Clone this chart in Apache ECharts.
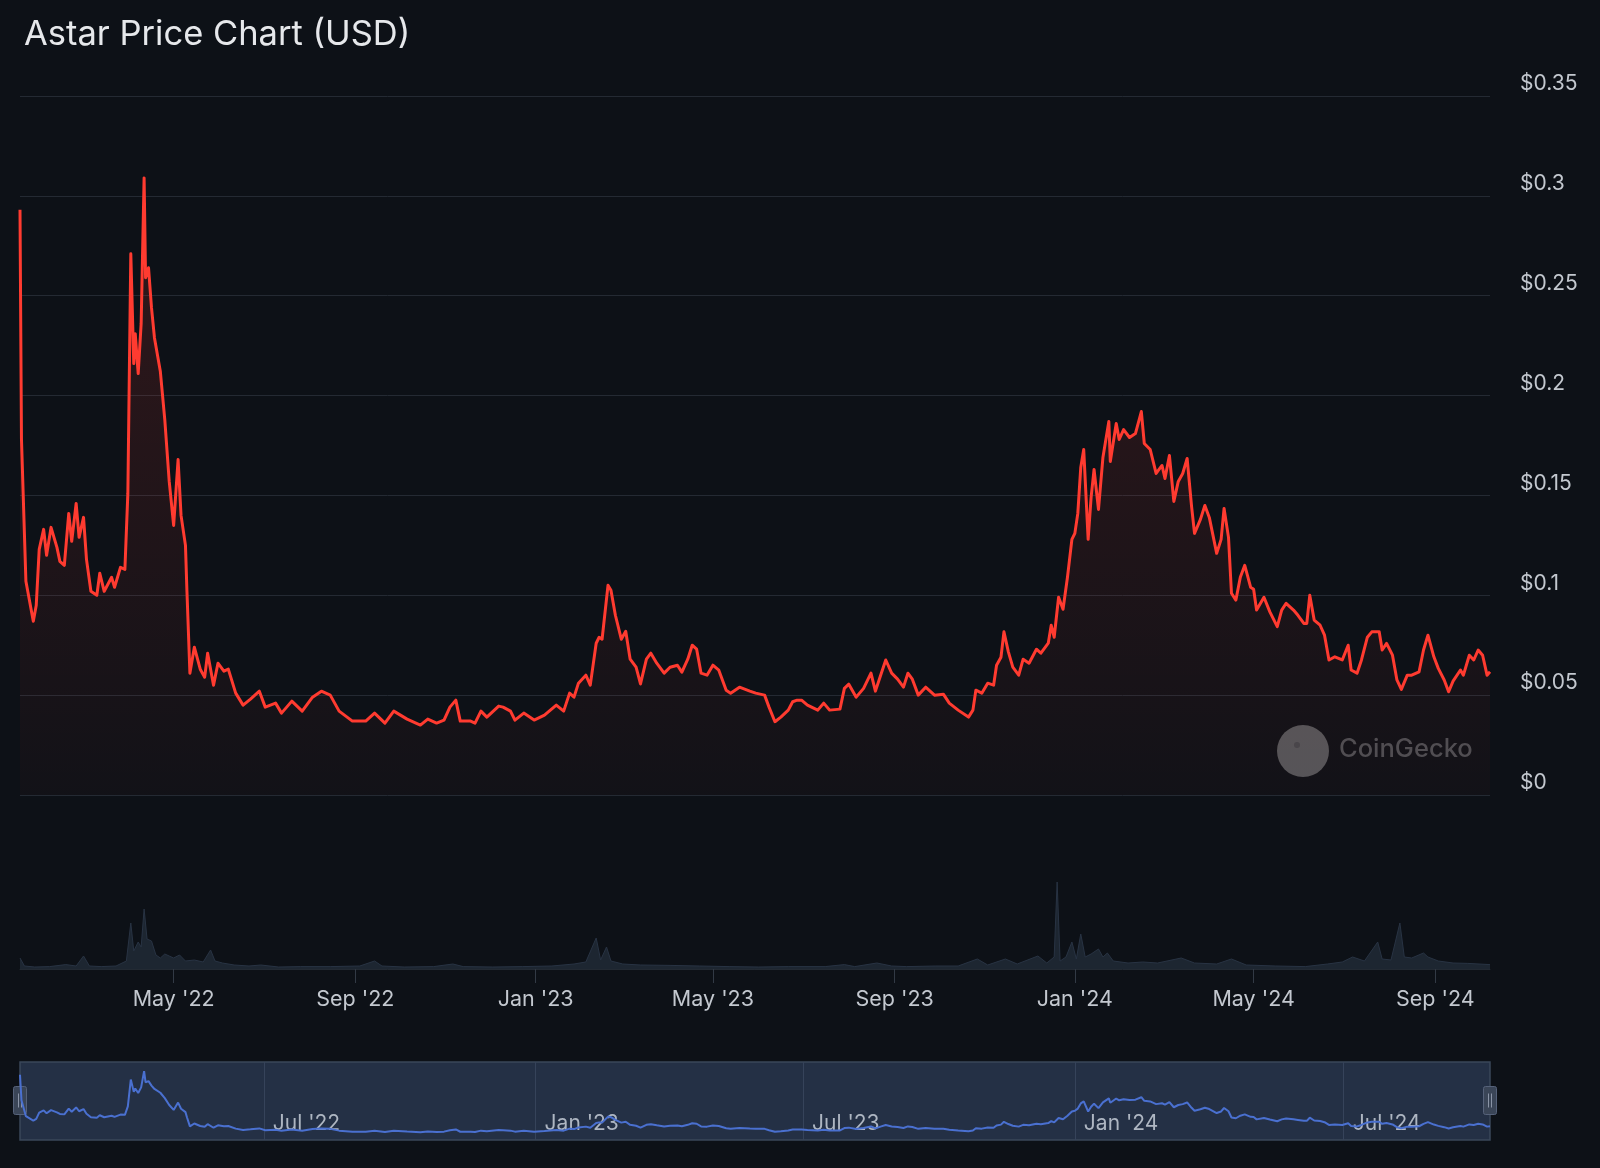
<!DOCTYPE html>
<html>
<head>
<meta charset="utf-8">
<script src="https://cdn.jsdelivr.net/npm/echarts@6/dist/echarts.min.js"></script>
<style>
html,body{margin:0;padding:0;background:#0d1117;}
#chart{width:1600px;height:1168px;}
</style>
</head>
<body>
<div id="chart"></div>
<script>
// ---- data ----
const START_DATE = '2022-01-17';
const END_DATE = '2024-10-08';

// price samples: day offset from START_DATE, price in USD
const priceDays = [0,1,4,9,11,13,16,18,21,25,27,30,33,35,38,40,43,45,48,52,54,57,62,64,68,71,73,75,77,78,80,82,84,85,87,89,91,95,98,101,104,107,109,112,113,115,118,122,125,127,131,134,138,141,146,151,156,162,166,173,177,184,191,198,204,210,216,225,234,240,247,253,
262,271,276,282,287,291,295,298,305,308,312,316,324,327,332,335,341,348,355,363,368,372,375,378,383,386,390,392,394,398,400,403,407,410,413,417,420,424,427,431,436,440,445,448,452,455,458,461,465,469,473,478,481,487,494,498,504,507,511,515,520,523,526,
529,533,540,544,548,555,558,561,566,571,576,579,583,586,590,594,598,601,604,608,613,619,625,629,635,642,645,647,651,655,659,661,664,666,669,672,676,679,683,688,691,696,698,700,703,706,709,712,714,716,718,720,723,725,727,730,733,737,738,742,744,747,751,755,759,761,765,769,773,775,778,781,784,787,790,793,795,799,
802,805,810,813,815,818,820,823,826,829,833,835,837,842,846,851,854,857,862,865,869,871,873,876,880,883,886,890,895,899,901,905,908,912,915,920,922,925,929,932,935,939,942,947,950,953,957,960,964,967,970,975,977,981,984,987,990,993,995];
const prices = [0.293,0.178,0.107,0.087,0.095,0.123,0.133,0.120,0.134,0.124,0.117,0.115,0.141,0.127,0.146,0.129,0.139,0.118,0.102,0.100,0.111,0.102,0.109,0.104,0.114,0.113,0.151,0.271,0.216,0.231,0.211,0.236,0.309,0.259,0.264,0.244,0.229,0.212,0.188,0.157,0.135,0.168,0.140,0.125,0.102,0.061,0.074,0.063,0.059,0.071,0.055,0.066,0.062,0.063,0.051,0.045,0.048,0.052,0.044,0.046,0.041,0.047,0.042,0.049,0.052,0.050,0.042,0.037,0.037,0.041,0.036,0.042,
0.038,0.035,0.038,0.036,0.0375,0.044,0.0475,0.037,0.037,0.036,0.042,0.039,0.0445,0.044,0.042,0.0375,0.041,0.0375,0.040,0.045,0.042,0.051,0.049,0.056,0.060,0.055,0.076,0.079,0.078,0.105,0.1025,0.090,0.078,0.082,0.068,0.064,0.0556,0.068,0.071,0.066,0.061,0.064,0.065,0.0615,0.068,0.075,0.073,0.061,0.060,0.065,0.0625,0.0525,0.051,0.054,0.052,0.051,0.050,0.044,0.0367,0.039,0.0425,0.0467,0.0475,
0.0475,0.045,0.0425,0.046,0.0425,0.043,0.0534,0.0555,0.049,0.0534,0.061,0.052,0.061,0.0676,0.061,0.058,0.054,0.061,0.058,0.050,0.054,0.050,0.0505,0.046,0.0425,0.039,0.0425,0.0525,0.051,0.056,0.055,0.065,0.069,0.0817,0.0717,0.064,0.060,0.068,0.066,0.073,0.071,0.076,0.085,0.079,0.099,0.093,0.109,0.128,0.131,0.141,0.164,0.173,0.128,0.149,0.163,0.143,0.169,0.187,0.167,0.186,0.178,0.183,0.179,0.181,0.192,0.176,0.173,0.161,0.165,0.1585,0.170,0.147,0.157,0.161,0.1685,0.1445,0.131,0.138,
0.145,0.139,0.121,0.128,0.1435,0.129,0.101,0.0976,0.109,0.115,0.104,0.103,0.0926,0.099,0.0917,0.0843,0.0926,0.096,0.0926,0.090,0.0859,0.0859,0.100,0.0876,0.085,0.080,0.0676,0.0692,0.0676,0.075,0.0626,0.061,0.0676,0.079,0.0817,0.0817,0.0726,0.0759,0.070,0.0576,0.0529,0.060,0.060,0.0617,0.0726,0.080,0.0692,0.0634,0.0576,0.0517,0.057,0.0626,0.060,0.070,0.0676,0.0726,0.070,0.060,0.0617];

// trading volume samples (USD millions, estimated)
const volumeDays = [0,3,10,20,31,38,43,47,55,65,72,75,77,80,82,84,86,89,92,95,98,101,104,108,112,118,124,129,132,137,145,155,163,175,190,210,230,240,245,260,280,293,300,320,340,360,375,383,390,393,397,400,408,420,440,460,480,500,520,545,558,565,580,590,600,620,635,648,655,667,675,689,695,700,702,704,708,712,715,718,721,725,730,733,736,740,750,760,770,786,795,810,820,830,850,870,885,895,902,910,919,922,928,934,937,942,950,953,960,970,980,995];
const volumes = [55,15,10,12,22,15,65,15,12,15,40,230,90,135,110,300,150,140,70,55,75,65,55,70,40,45,35,95,40,30,20,15,20,10,12,12,15,40,15,10,12,25,12,10,12,15,25,35,155,45,110,40,25,20,18,15,12,10,12,12,22,12,30,15,12,15,15,50,20,50,25,65,30,60,435,40,60,135,50,175,60,75,100,60,80,40,30,35,30,55,30,25,50,20,15,12,25,35,60,40,135,50,45,230,60,55,80,60,40,30,28,22];

// axis ticks
const mainTicks = ['2022-05-01','2022-09-01','2023-01-01','2023-05-01','2023-09-01','2024-01-01','2024-05-01','2024-09-01'];
const sliderTicks = ['2022-07-01','2023-01-01','2023-07-01','2024-01-01','2024-07-01'];

// ---- build ----
const DAY_MS = 86400000;
const t0 = new Date(START_DATE).getTime();
const tEnd = new Date(END_DATE).getTime();
const priceData = priceDays.map((d, i) => [t0 + d * DAY_MS, prices[i]]);
const volumeData = volumeDays.map((d, i) => [t0 + d * DAY_MS, volumes[i]]);
const MONTHS = ['Jan','Feb','Mar','Apr','May','Jun','Jul','Aug','Sep','Oct','Nov','Dec'];
const fmtDate = v => { const d = new Date(v); return MONTHS[d.getUTCMonth()] + " '" + String(d.getUTCFullYear()).slice(2); };
const toTs = arr => arr.map(s => new Date(s).getTime());

const FONT = 'Inter, "Noto Sans", sans-serif';
const chart = echarts.init(document.getElementById('chart'), null, {renderer: 'canvas'});

const option = {
  backgroundColor: '#0d1117',
  animation: false,
  title: {
    text: 'Astar Price Chart (USD)',
    left: 19, top: 12,
    textStyle: {color: '#e6e8eb', fontSize: 34.5, fontWeight: 'normal', fontFamily: FONT}
  },
  grid: [
    {left: 20, right: 110, top: 96, bottom: 373, outerBoundsMode: 'none'},
    {left: 20, right: 110, top: 849, bottom: 199, outerBoundsMode: 'none'},
    {left: 20, right: 110, top: 1062, bottom: 28, outerBoundsMode: 'none', show: true,
     backgroundColor: '#243045', borderColor: '#3a475a', borderWidth: 1.5}
  ],
  xAxis: [
    {type: 'value', gridIndex: 0, min: t0, max: tEnd,
     axisLabel: {show: false}, axisTick: {show: false}, axisLine: {show: false}, splitLine: {show: false}},
    {type: 'value', gridIndex: 1, min: t0, max: tEnd,
     axisLine: {show: true, lineStyle: {color: '#232a33', width: 1}},
     axisTick: {show: true, length: 14, customValues: toTs(mainTicks), lineStyle: {color: '#323a45', width: 1}},
     axisLabel: {show: true, customValues: toTs(mainTicks), formatter: fmtDate, margin: 20,
                 color: '#c3c8cf', fontSize: 21.5, fontFamily: FONT},
     splitLine: {show: false}},
    {type: 'value', gridIndex: 2, min: t0, max: tEnd,
     axisLine: {show: false},
     axisTick: {show: false, customValues: toTs(sliderTicks)},
     axisLabel: {show: true, inside: true, customValues: toTs(sliderTicks), formatter: fmtDate,
                 align: 'left', padding: [0, 0, 0, 9], margin: 6,
                 color: '#aeb6c2', fontSize: 21, fontFamily: FONT},
     splitLine: {show: true, lineStyle: {color: '#36435a', width: 1}}}
  ],
  yAxis: [
    {type: 'value', gridIndex: 0, position: 'right', min: 0, max: 0.35, interval: 0.05,
     axisLine: {show: false}, axisTick: {show: false},
     axisLabel: {formatter: v => '$' + parseFloat(v.toFixed(2)), color: '#c3c8cf', fontSize: 21,
                 fontFamily: FONT, margin: 30, verticalAlign: 'bottom', lineHeight: 24, align: 'left'},
     splitLine: {show: true, lineStyle: {color: '#242a33', width: 1}}},
    {type: 'value', gridIndex: 1, min: 0, max: 600, show: false, splitLine: {show: false}},
    {type: 'value', gridIndex: 2, min: 0, max: 0.35, show: false, splitLine: {show: false}}
  ],
  series: [
    {name: 'Price', type: 'line', xAxisIndex: 0, yAxisIndex: 0, data: priceData,
     showSymbol: false, smooth: false, z: 3,
     lineStyle: {color: '#ff3b30', width: 3, join: 'round'},
     areaStyle: {origin: 'start', color: new echarts.graphic.LinearGradient(0, 0, 0, 1, [
        {offset: 0, color: 'rgba(255,59,48,0.22)'},
        {offset: 1, color: 'rgba(255,59,48,0.03)'}])}},
    {name: 'Volume', type: 'line', xAxisIndex: 1, yAxisIndex: 1, data: volumeData,
     showSymbol: false, smooth: false,
     lineStyle: {color: '#283343', width: 1},
     areaStyle: {color: '#1d2631', opacity: 1}},
    {name: 'Overview', type: 'line', xAxisIndex: 2, yAxisIndex: 2, data: priceData,
     showSymbol: false, smooth: false,
     lineStyle: {color: '#4a70d0', width: 2}}
  ],
  graphic: [
    {type: 'group', left: 1277, top: 725, children: [
      {type: 'circle', shape: {cx: 26, cy: 26, r: 26}, style: {fill: '#5a5d61', opacity: 0.9}},
      {type: 'circle', shape: {cx: 20, cy: 20, r: 3}, style: {fill: '#43464b'}}
    ]},
    {type: 'text', left: 1339, top: 736,
     style: {text: 'CoinGecko', fill: '#4b4e53', fontSize: 25.5, fontFamily: FONT, fontWeight: 500}},
    {type: 'group', left: 13, top: 1086, children: [
      {type: 'rect', shape: {x: 0, y: 0, width: 13, height: 28, r: 2}, style: {fill: '#3a4557', stroke: '#56627a', lineWidth: 1}},
      {type: 'line', shape: {x1: 5, y1: 7, x2: 5, y2: 21}, style: {stroke: '#8a94a6', lineWidth: 1}},
      {type: 'line', shape: {x1: 8, y1: 7, x2: 8, y2: 21}, style: {stroke: '#8a94a6', lineWidth: 1}}
    ]},
    {type: 'group', left: 1483, top: 1086, children: [
      {type: 'rect', shape: {x: 0, y: 0, width: 13, height: 28, r: 2}, style: {fill: '#3a4557', stroke: '#56627a', lineWidth: 1}},
      {type: 'line', shape: {x1: 5, y1: 7, x2: 5, y2: 21}, style: {stroke: '#8a94a6', lineWidth: 1}},
      {type: 'line', shape: {x1: 8, y1: 7, x2: 8, y2: 21}, style: {stroke: '#8a94a6', lineWidth: 1}}
    ]}
  ]
};
chart.setOption(option);
</script>
</body>
</html>
